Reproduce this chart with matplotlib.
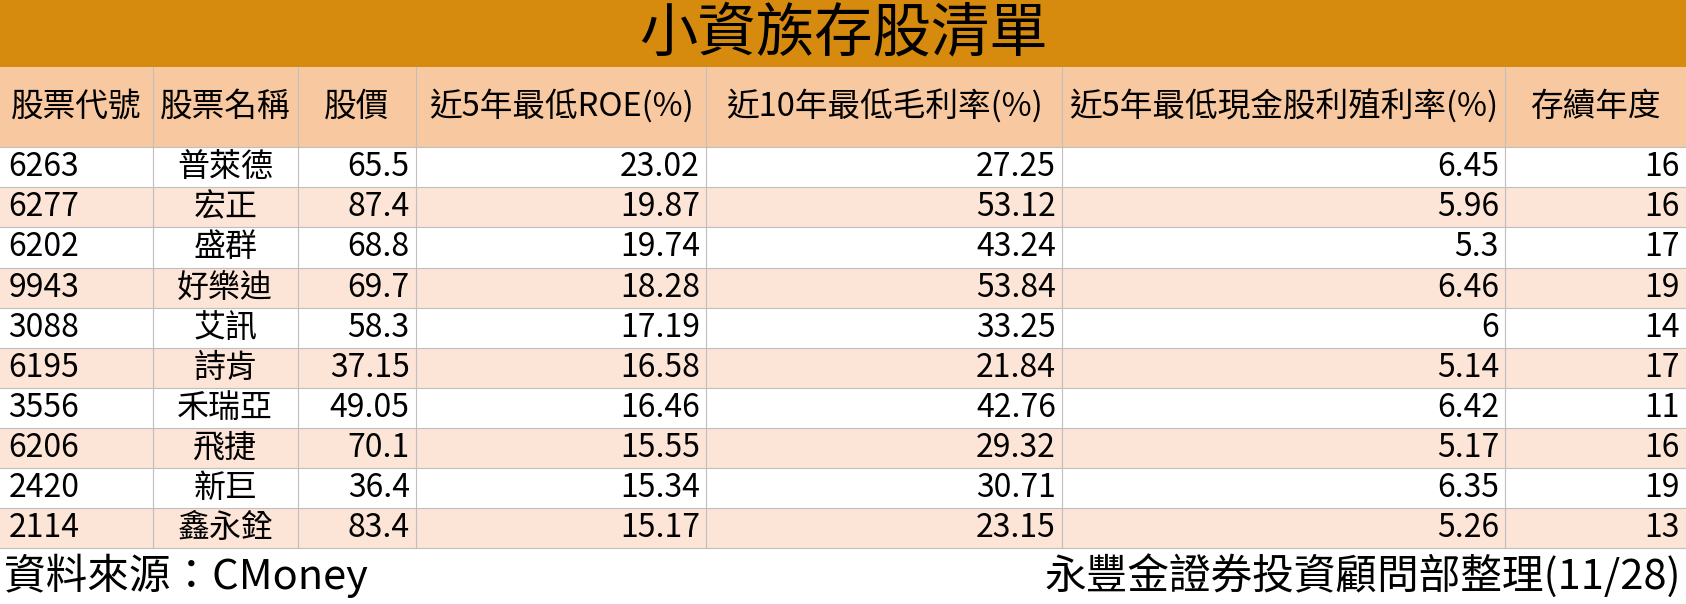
import matplotlib
matplotlib.use("Agg")
import matplotlib.pyplot as plt
from matplotlib.patches import Rectangle

plt.rcParams['font.family'] = ['Noto Sans CJK TC', 'DejaVu Sans']

title = "小資族存股清單"
headers = ["股票代號", "股票名稱", "股價", "近5年最低ROE(%)", "近10年最低毛利率(%)", "近5年最低現金股利殖利率(%)", "存續年度"]
codes = ["6263", "6277", "6202", "9943", "3088", "6195", "3556", "6206", "2420", "2114"]
names = ["普萊德", "宏正", "盛群", "好樂迪", "艾訊", "詩肯", "禾瑞亞", "飛捷", "新巨", "鑫永銓"]
prices = ["65.5", "87.4", "68.8", "69.7", "58.3", "37.15", "49.05", "70.1", "36.4", "83.4"]
roe = ["23.02", "19.87", "19.74", "18.28", "17.19", "16.58", "16.46", "15.55", "15.34", "15.17"]
gm = ["27.25", "53.12", "43.24", "53.84", "33.25", "21.84", "42.76", "29.32", "30.71", "23.15"]
dy = ["6.45", "5.96", "5.3", "6.46", "6", "5.14", "6.42", "5.17", "6.35", "5.26"]
years = ["16", "16", "17", "19", "14", "17", "11", "16", "19", "13"]
source = "資料來源：CMoney"
credit = "永豐金證券投資顧問部整理(11/28)"

W, H = 1568, 562
fig = plt.figure(figsize=(16.86, 6.04), dpi=100)
ax = fig.add_axes([0, 0, 1, 1])
ax.set_xlim(0, W); ax.set_ylim(H, 0); ax.axis('off')

xb = [0, 142, 277, 387, 657, 988, 1400, 1568]
title_h, head_top, head_bot, body_bot = 62, 62, 137, 510
rh = (body_bot - head_bot) / len(codes)

ax.add_patch(Rectangle((0, 0), W, title_h, color='#D68B0E', lw=0))
ax.text(W / 2, title_h / 2 + 1, title, ha='center', va='center', fontsize=42, color='black')
ax.add_patch(Rectangle((0, head_top), W, head_bot - head_top, color='#F8C9A1', lw=0))
for i, h in enumerate(headers):
    ax.text((xb[i] + xb[i + 1]) / 2, (head_top + head_bot) / 2, h, ha='center', va='center', fontsize=23.5)

cols = [codes, names, prices, roe, gm, dy, years]
aligns = ['left', 'center', 'right', 'right', 'right', 'right', 'right']
for r in range(len(codes)):
    y0 = head_bot + r * rh
    ax.add_patch(Rectangle((0, y0), W, rh, color='#FCE4D6' if r % 2 else 'white', lw=0))
    yc = y0 + rh / 2
    for c, col in enumerate(cols):
        if aligns[c] == 'left':
            x = xb[c] + 8
        elif aligns[c] == 'center':
            x = (xb[c] + xb[c + 1]) / 2
        else:
            x = xb[c + 1] - 6
        ax.text(x, yc, col[r], ha=aligns[c], va='center', fontsize=23)
    ax.plot([0, W], [y0, y0], color='#BFBFBF', lw=0.8)
ax.plot([0, W], [body_bot, body_bot], color='#BFBFBF', lw=0.8)
for x in xb[1:-1]:
    ax.plot([x, x], [head_top, body_bot], color='#BFBFBF', lw=0.8)

ax.text(4, (body_bot + H) / 2, source, ha='left', va='center', fontsize=30)
ax.text(W - 4, (body_bot + H) / 2, credit, ha='right', va='center', fontsize=30)

fig.savefig("out.png", dpi=100)
